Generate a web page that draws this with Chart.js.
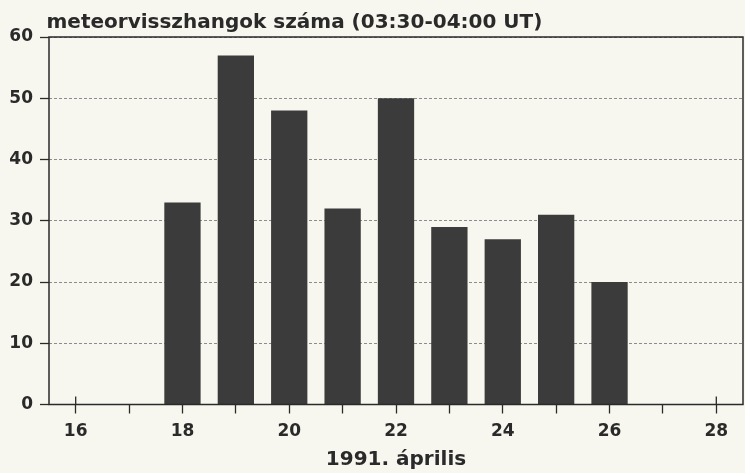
<!DOCTYPE html>
<html>
<head>
<meta charset="utf-8">
<script src="https://cdn.jsdelivr.net/npm/chart.js@4"></script>
<style>
  html, body { margin: 0; padding: 0; background: #f8f7ef; }
  canvas { display: block; }
</style>
</head>
<body>
<canvas id="meteor-chart" width="745" height="473"></canvas>
<script>
var chartTitle = "meteorvisszhangok száma (03:30-04:00 UT)";
var axisTitle = "1991. április";
var days = [18, 19, 20, 21, 22, 23, 24, 25, 26];
var counts = [33, 57, 48, 32, 50, 29, 27, 31, 20];
var xTicks = [16, 17, 18, 19, 20, 21, 22, 23, 24, 25, 26, 27, 28];
var xLabels = [16, 18, 20, 22, 24, 26, 28];
var yTicks = [0, 10, 20, 30, 40, 50, 60];
var dayMin = 15.5;
var dayMax = 28.5;

var ink = "#2a2a2a";
Chart.defaults.font.family = "'DejaVu Sans', sans-serif";
Chart.defaults.color = ink;

// title text + frame + the upward half of the labelled x ticks
var decorations = {
  id: "decorations",
  beforeDatasetsDraw: function (chart) {
    var c = chart.ctx, a = chart.chartArea, x = chart.scales.x;
    c.save();
    c.strokeStyle = ink;
    c.lineWidth = 1.3;
    xLabels.forEach(function (d) {
      var px = x.getPixelForValue(d);
      c.beginPath();
      c.moveTo(px, a.bottom);
      c.lineTo(px, a.bottom - 8);
      c.stroke();
    });
    c.restore();
  },
  afterDraw: function (chart) {
    var c = chart.ctx, a = chart.chartArea;
    c.save();
    c.strokeStyle = ink;
    c.lineWidth = 1.5;
    c.strokeRect(a.left, a.top, a.right - a.left, a.bottom - a.top);
    c.fillStyle = ink;
    c.font = "bold 20px 'DejaVu Sans'";
    c.textBaseline = "alphabetic";
    c.fillText(chartTitle, 46.5, 27.7);
    c.restore();
  },
};

var ctx = document.getElementById("meteor-chart").getContext("2d");
new Chart(ctx, {
  type: "bar",
  data: {
    datasets: [
      {
        label: chartTitle,
        data: days.map(function (d, i) { return { x: d, y: counts[i] }; }),
        backgroundColor: "#3b3b3b",
        borderWidth: 0,
        categoryPercentage: 1,
        barPercentage: 0.68,
      },
    ],
  },
  options: {
    responsive: false,
    animation: false,
    layout: { padding: { top: 37, right: 2, left: 0, bottom: 0 } },
    plugins: {
      legend: { display: false },
      tooltip: { enabled: false },
      title: { display: false },
    },
    scales: {
      x: {
        type: "linear",
        min: dayMin,
        max: dayMax,
        offset: false,
        afterFit: function (scale) { scale.height = 68.5; },
        afterBuildTicks: function (scale) {
          scale.ticks = xTicks.map(function (v) { return { value: v }; });
        },
        border: { display: false },
        grid: {
          offset: false,
          drawOnChartArea: false,
          drawTicks: true,
          tickLength: 9,
          tickColor: ink,
          tickWidth: 1.3,
        },
        ticks: {
          autoSkip: false,
          maxRotation: 0,
          padding: 8,
          font: { size: 17, weight: "bold" },
          callback: function (value) {
            return xLabels.indexOf(value) >= 0 ? String(value) : "";
          },
        },
        title: {
          display: true,
          text: axisTitle,
          font: { size: 20, weight: "bold" },
          padding: { top: 6, bottom: 1 },
        },
      },
      y: {
        min: yTicks[0],
        max: yTicks[yTicks.length - 1],
        afterFit: function (scale) { scale.width = 49; },
        afterBuildTicks: function (scale) {
          scale.ticks = yTicks.map(function (v) { return { value: v }; });
        },
        border: { display: false, dash: [3, 2] },
        grid: {
          color: "#8c8c8c",
          lineWidth: 1,
          tickLength: 9,
          tickColor: ink,
          tickWidth: 1.3,
          tickBorderDash: [],
        },
        ticks: {
          padding: 7,
          font: { size: 17, weight: "bold" },
        },
      },
    },
  },
  plugins: [decorations],
});
</script>
</body>
</html>
